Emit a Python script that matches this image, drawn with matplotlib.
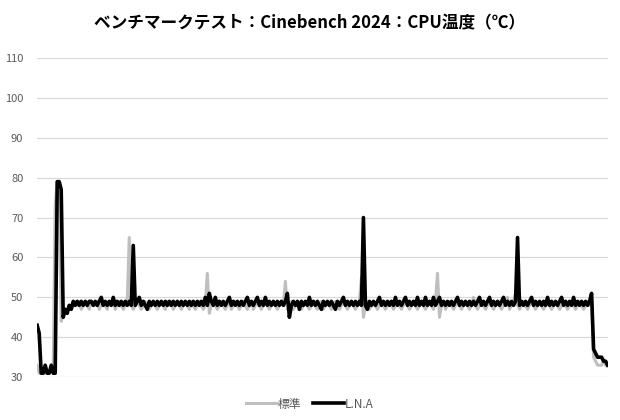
import matplotlib.pyplot as plt

# CPU温度（℃）, 1 sample per step
lna = [
    43, 41, 31, 31, 33, 31, 31, 33, 31, 31, 79, 79, 77,
    45, 47, 46, 48, 47, 49, 48,
    49, 48, 49, 48, 49, 48, 49, 49, 48, 49,
    48, 49, 50, 48, 49, 48, 49, 48, 50, 48,
    49, 48, 49, 48, 49, 48, 49, 48, 63, 48,
    49, 50, 48, 49, 48, 47, 49, 48, 49, 48,
    49, 48, 49, 48, 49, 48, 49, 48, 49, 48,
    49, 48, 49, 48, 49, 48, 49, 48, 49, 48,
    49, 48, 49, 48, 50, 48, 51, 49, 48, 50,
    48, 49, 48, 49, 48, 49, 50, 48, 49, 48,
    49, 48, 49, 48, 49, 50, 48, 49, 48, 49,
    50, 48, 49, 48, 50, 48, 49, 48, 49, 48,
    49, 48, 49, 48, 49, 51, 45, 48, 49, 48,
    49, 47, 49, 48, 49, 48, 50, 48, 49, 48,
    49, 48, 47, 49, 48, 49, 48, 49, 48, 47,
    49, 48, 49, 50, 48, 49, 48, 49, 48, 49,
    48, 49, 48, 70, 48, 47, 49, 48, 49, 48,
    49, 50, 48, 49, 48, 49, 48, 49, 48, 50,
    48, 49, 48, 49, 50, 48, 49, 48, 49, 48,
    50, 48, 49, 48, 50, 48, 49, 48, 50, 48,
    49, 50, 48, 49, 48, 49, 48, 49, 48, 49,
    50, 48, 49, 48, 49, 48, 49, 48, 49, 48,
    49, 50, 48, 49, 48, 49, 50, 48, 49, 48,
    49, 48, 49, 50, 48, 49, 48, 49, 48, 49,
    65, 48, 49, 48, 49, 48, 49, 50, 48, 49,
    48, 49, 48, 49, 48, 50, 48, 49, 48, 49,
    48, 49, 50, 48, 49, 48, 49, 48, 50, 48,
    49, 48, 49, 48, 49, 48, 49,
    51, 37, 36, 35, 35, 35, 34, 34, 33,
]

standard = [
    33, 31, 31, 32, 31, 31, 31, 32, 31, 73, 79, 78, 44,
    46, 47, 47, 48, 47, 48, 49,
    48, 49, 47, 48, 49, 48, 47, 49, 48, 48,
    49, 47, 48, 49, 48, 47, 49, 48, 49, 47,
    48, 49, 48, 47, 48, 49, 65, 48, 47, 48,
    49, 48, 47, 48, 49, 48, 47, 48, 49, 48,
    47, 48, 49, 48, 47, 49, 48, 49, 47, 48,
    49, 48, 47, 48, 49, 48, 47, 49, 48, 47,
    48, 49, 48, 47, 48, 56, 46, 48, 49, 48,
    47, 48, 49, 48, 47, 48, 49, 47, 48, 49,
    48, 47, 48, 49, 48, 47, 48, 49, 47, 48,
    49, 48, 47, 48, 49, 48, 47, 48, 49, 48,
    47, 48, 49, 48, 54, 47, 48, 49, 47, 48,
    49, 48, 47, 48, 49, 48, 47, 48, 49, 48,
    47, 48, 49, 47, 48, 49, 48, 47, 48, 49,
    48, 47, 48, 49, 48, 47, 48, 49, 48, 47,
    48, 49, 55, 45, 48, 49, 47, 48, 49, 48,
    47, 48, 49, 48, 47, 48, 49, 48, 47, 48,
    49, 48, 47, 48, 49, 48, 47, 48, 49, 48,
    47, 48, 49, 48, 47, 48, 49, 48, 47, 49,
    56, 45, 48, 49, 47, 48, 49, 48, 47, 48,
    49, 48, 47, 48, 49, 48, 47, 48, 50, 48,
    47, 48, 49, 48, 47, 48, 49, 48, 47, 48,
    49, 48, 47, 48, 49, 50, 47, 48, 49, 51,
    48, 47, 48, 49, 48, 47, 48, 49, 48, 47,
    48, 49, 48, 47, 48, 49, 48, 47, 48, 49,
    48, 47, 48, 49, 48, 47, 48, 49, 48, 47,
    48, 49, 48, 47, 48, 49, 48,
    50, 35, 34, 33, 33, 33, 34, 33, 33,
]

series_names = ['標準', 'L.N.A']
y_ticks = [30, 40, 50, 60, 70, 80, 90, 100, 110]
title = 'ベンチマークテスト：Cinebench 2024：CPU温度（℃）'

plt.rcParams['font.family'] = ['Noto Sans CJK JP', 'DejaVu Sans']

fig = plt.figure(figsize=(6.2, 4.2), dpi=100)
ax = fig.add_axes([0.06, 0.102, 0.92, 0.76])

x = range(len(lna))
ax.plot(x, standard, color='#BFBFBF', linewidth=2.2, label=series_names[0])
ax.plot(x, lna, color='#000000', linewidth=2.6, label=series_names[1])

ax.set_xlim(0, len(lna) - 1)
ax.set_ylim(30, 110)
ax.set_yticks(y_ticks)
ax.set_xticks([])
ax.grid(axis='y', color='#D9D9D9', linewidth=0.9)
ax.set_axisbelow(True)
for side in ['left', 'right', 'top', 'bottom']:
    ax.spines[side].set_visible(False)
ax.tick_params(axis='y', length=0, labelsize=8, labelcolor='#595959', pad=10)

fig.text(0.5, 0.945, title, ha='center', va='center', fontsize=12, fontweight='bold')
fig.legend(loc='center', bbox_to_anchor=(0.5, 0.038), ncol=2, frameon=False,
           fontsize=8.5, handlelength=2.6, handletextpad=0.1, columnspacing=1.0,
           labelcolor='#595959')

fig.savefig('out.png', dpi=100)
plt.close(fig)
